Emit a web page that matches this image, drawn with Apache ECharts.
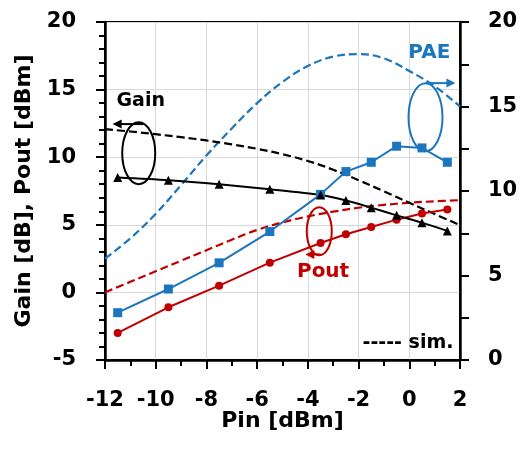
<!DOCTYPE html>
<html>
<head>
<meta charset="utf-8">
<script src="https://cdn.jsdelivr.net/npm/echarts@6/dist/echarts.min.js"></script>
<style>
  html, body { margin: 0; padding: 0; background: #fff; }
  #chart { width: 521px; height: 461px; }
</style>
</head>
<body>
<div id="chart"></div>
<script>
// Measured input power points (dBm)
const pinMeas = [-11.5, -9.5, -7.5, -5.5, -3.5, -2.5, -1.5, -0.5, 0.5, 1.5];
// Measured gain (dB), output power (dBm), PAE (%)
const gainMeas = [8.5, 8.3, 8.0, 7.63, 7.2, 6.8, 6.27, 5.7, 5.16, 4.55];
const poutMeas = [-3.0, -1.1, 0.5, 2.2, 3.65, 4.3, 4.84, 5.38, 5.83, 6.13];
const paeMeas = [2.8, 4.2, 5.75, 7.6, 9.8, 11.15, 11.7, 12.65, 12.55, 11.7];

// Simulated sweep (dBm)
const pinSim = [-12, -11, -10, -9, -8, -7, -6, -5, -4, -3, -2, -1, 0, 1, 2];
const gainSim = [12.07, 11.9, 11.7, 11.48, 11.24, 10.95, 10.62, 10.22, 9.72, 9.07, 8.3, 7.47, 6.63, 5.8, 4.97];
const poutSim = [0.0, 0.78, 1.56, 2.34, 3.12, 3.9, 4.62, 5.18, 5.62, 5.97, 6.26, 6.47, 6.63, 6.74, 6.82];
const paeSim = [6.0, 7.2, 8.65, 10.35, 12.1, 13.7, 15.2, 16.45, 17.4, 17.95, 18.1, 17.85, 17.1, 16.2, 15.0];

// Axis tick settings
const xTicks = { min: -12, max: 2, step: 2 };
const yLeftTicks = { min: -5, max: 20, step: 5 };
const yRightTicks = { min: 0, max: 20, step: 5 };

const BLACK = '#000000';
const RED = '#C00000';
const BLUE = '#1B76BE';
const FONT = 'DejaVu Sans';

const pairs = (xs, ys) => xs.map((x, i) => [x, ys[i]]);

const chart = echarts.init(document.getElementById('chart'), null, { renderer: 'canvas' });

const tickLabel = { color: BLACK, fontFamily: FONT, fontWeight: 'bold', fontSize: 21 };

const option = {
  animation: false,
  backgroundColor: '#fff',
  grid: { left: 105, right: 61, top: 22, bottom: 101, show: true, borderColor: BLACK, borderWidth: 2, backgroundColor: 'transparent' },
  xAxis: {
    type: 'value', min: xTicks.min, max: xTicks.max, interval: xTicks.step,
    axisLine: { show: true, onZero: false, lineStyle: { color: BLACK, width: 2.5 } },
    axisTick: { show: true, length: 9, lineStyle: { color: BLACK, width: 2 } },
    minorTick: { show: true, splitNumber: 2, length: 6, lineStyle: { color: BLACK, width: 2 } },
    splitLine: { show: true, lineStyle: { color: '#D9D9D9', width: 1 } },
    axisLabel: Object.assign({ margin: 30 }, tickLabel),
    name: 'Pin [dBm]', nameLocation: 'middle', nameGap: 50, nameMoveOverlap: false,
    nameTextStyle: { color: BLACK, fontFamily: FONT, fontWeight: 'bold', fontSize: 22 }
  },
  yAxis: [
    {
      type: 'value', position: 'left', min: yLeftTicks.min, max: yLeftTicks.max, interval: yLeftTicks.step,
      axisLine: { show: true, onZero: false, lineStyle: { color: BLACK, width: 2.5 } },
      axisTick: { show: true, length: 9, lineStyle: { color: BLACK, width: 2 } },
      minorTick: { show: true, splitNumber: 5, length: 6, lineStyle: { color: BLACK, width: 2 } },
      splitLine: { show: true, lineStyle: { color: '#D9D9D9', width: 1 } },
      axisLabel: Object.assign({ margin: 29 }, tickLabel),
      name: 'Gain [dB], Pout [dBm]', nameLocation: 'middle', nameGap: 70, nameMoveOverlap: false,
      nameTextStyle: { color: BLACK, fontFamily: FONT, fontWeight: 'bold', fontSize: 22 }
    },
    {
      type: 'value', position: 'right', min: yRightTicks.min, max: yRightTicks.max, interval: yRightTicks.step,
      axisLine: { show: true, onZero: false, lineStyle: { color: BLACK, width: 2.5 } },
      axisTick: { show: true, length: 9, lineStyle: { color: BLACK, width: 2 } },
      minorTick: { show: true, splitNumber: 2, length: 9, lineStyle: { color: BLACK, width: 2 } },
      splitLine: { show: false },
      axisLabel: Object.assign({ margin: 28 }, tickLabel)
    }
  ],
  series: [
    { name: 'PAE sim', type: 'line', yAxisIndex: 1, data: pairs(pinSim, paeSim), smooth: 0.4, showSymbol: false,
      lineStyle: { color: BLUE, width: 2.2, type: [8, 4] }, z: 2 },
    { name: 'Pout sim', type: 'line', yAxisIndex: 0, data: pairs(pinSim, poutSim), smooth: 0.4, showSymbol: false,
      lineStyle: { color: RED, width: 2.2, type: [8, 4] }, z: 2 },
    { name: 'Gain sim', type: 'line', yAxisIndex: 0, data: pairs(pinSim, gainSim), smooth: 0.4, showSymbol: false,
      lineStyle: { color: BLACK, width: 2.2, type: [8, 4] }, z: 2 },
    { name: 'PAE', type: 'line', yAxisIndex: 1, data: pairs(pinMeas, paeMeas), symbol: 'rect', symbolSize: 9,
      lineStyle: { color: BLUE, width: 2 }, itemStyle: { color: BLUE }, z: 3 },
    { name: 'Pout', type: 'line', yAxisIndex: 0, data: pairs(pinMeas, poutMeas), symbol: 'circle', symbolSize: 8,
      lineStyle: { color: RED, width: 2 }, itemStyle: { color: RED }, z: 3 },
    { name: 'Gain', type: 'line', yAxisIndex: 0, data: pairs(pinMeas, gainMeas), symbol: 'triangle', symbolSize: 9,
      smooth: 0.3, lineStyle: { color: BLACK, width: 2 }, itemStyle: { color: BLACK }, z: 3 }
  ]
};

chart.setOption(option);

// Annotations anchored in (Pin, left-axis) data space
const toPx = (x, y) => chart.convertToPixel({ xAxisIndex: 0, yAxisIndex: 0 }, [x, y]);

function ellipse(cx, cy, rx, ry, color) {
  const p = toPx(cx, cy);
  return { type: 'ellipse', shape: { cx: p[0], cy: p[1], rx: rx, ry: ry }, style: { fill: 'none', stroke: color, lineWidth: 2 }, z: 10 };
}
function arrow(x1, x2, y, color) {
  const a = toPx(x1, y), b = toPx(x2, y);
  const dir = b[0] > a[0] ? 1 : -1;
  const len = 9, half = 4.5;
  return [
    { type: 'line', shape: { x1: a[0], y1: a[1], x2: b[0] - dir * len * 0.6, y2: b[1] }, style: { stroke: color, lineWidth: 2 }, z: 10 },
    { type: 'polygon', shape: { points: [[b[0], b[1]], [b[0] - dir * len, b[1] - half], [b[0] - dir * len, b[1] + half]] }, style: { fill: color }, z: 10 }
  ];
}
function label(x, y, text, color, size, align) {
  const p = toPx(x, y);
  return { type: 'text', x: p[0], y: p[1], style: { text: text, fill: color, font: 'bold ' + size + 'px "' + FONT + '"', align: align || 'center', verticalAlign: 'middle' }, z: 10 };
}

const graphics = [].concat(
  [label(-10.59, 14.15, 'Gain', BLACK, 19)],
  arrow(-10.5, -11.7, 12.45, BLACK),
  [ellipse(-10.67, 10.3, 16.5, 31, BLACK)],
  [label(0.79, 17.7, 'PAE', BLUE, 20)],
  arrow(0.64, 1.82, 15.48, BLUE),
  [ellipse(0.64, 12.96, 17, 34, BLUE)],
  [label(-3.4, 1.56, 'Pout', RED, 20)],
  arrow(-3.5, -4.1, 2.81, RED),
  [ellipse(-3.55, 4.52, 12.5, 24, RED)],
  [label(1.74, -3.78, '----- sim.', BLACK, 19, 'right')]
);

chart.setOption({ graphic: graphics });
</script>
</body>
</html>
